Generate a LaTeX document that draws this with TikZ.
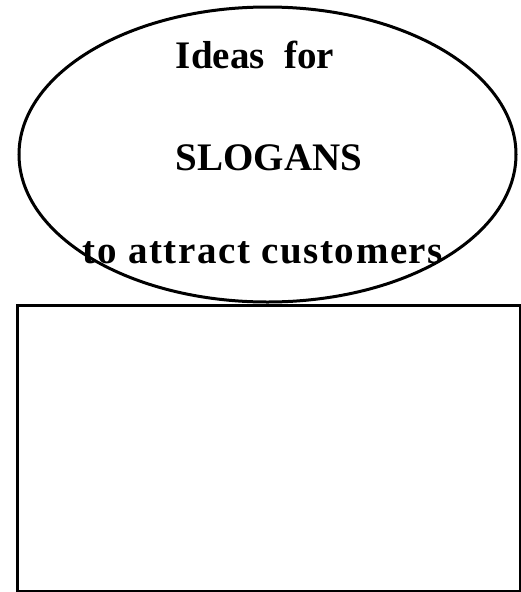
\documentclass[tikz,border=0pt]{standalone}
\usepackage{fontspec}
\setmainfont{Liberation Serif}
\usetikzlibrary{shapes.geometric}
\begin{document}
\begin{tikzpicture}[x=1pt,y=-1pt,
  outline/.style={draw=black,line width=3pt},
  label/.style={font=\fontsize{39}{44}\selectfont\bfseries,inner sep=0pt,anchor=base}]
\useasboundingbox (0,0) rectangle (521,592);
\node[outline,ellipse,minimum width=497pt,minimum height=295pt,inner sep=0pt] (oval) at (267.5,154.5) {};
\node[outline,rectangle,anchor=north west,minimum width=503pt,minimum height=286pt,inner sep=0pt] (box) at (15.5,303.5) {};
\node[label] (l1) at (255,68) {Ideas\ \ for};
\node[label] (l2) at (269,170) {SLOGANS};
\node[label] (l3) at (263,263) {\addfontfeature{LetterSpace=4}to attract customers};
\end{tikzpicture}
\end{document}
